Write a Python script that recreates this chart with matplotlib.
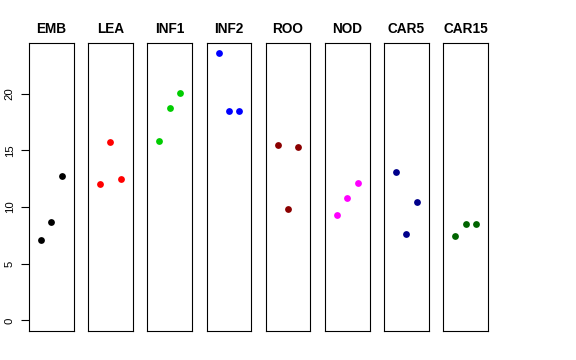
import matplotlib
matplotlib.use("Agg")
import matplotlib.pyplot as plt

plt.rcParams['font.family'] = ['Liberation Sans', 'DejaVu Sans']

# one panel per tissue, three replicate values each
tissues = ['EMB', 'LEA', 'INF1', 'INF2', 'ROO', 'NOD', 'CAR5', 'CAR15']
values = [
    [7.12, 8.68, 12.75],
    [12.04, 15.69, 12.51],
    [15.84, 18.73, 20.02],
    [23.55, 18.49, 18.49],
    [15.51, 9.86, 15.31],
    [9.33, 10.80, 12.13],
    [13.07, 7.62, 10.48],
    [7.45, 8.48, 8.48],
]
colors = ['black', 'red', '#00CD00', 'blue', '#8B0000', 'magenta', '#00008B', '#006400']
yticks = [0, 5, 10, 15, 20]

W, H = 576, 360
fig = plt.figure(figsize=(W / 100, H / 100), dpi=100)

left0, step, width = 29, 59.2, 44.5
top, bottom = 42.7, 331
ymax = max(max(v) for v in values)
pad = 0.04 * ymax

for i, (name, vals, col) in enumerate(zip(tissues, values, colors)):
    x0 = left0 + i * step
    ax = fig.add_axes([x0 / W, 1 - bottom / H, width / W, (bottom - top) / H])
    ax.scatter([1, 2, 3], vals, s=24, color=col, zorder=3, linewidths=0)
    ax.set_xlim(-0.16, 4.16)
    ax.set_ylim(-pad, ymax + pad)
    ax.set_xticks([])
    for sp in ax.spines.values():
        sp.set_linewidth(0.8)
    ax.set_title(name, fontsize=9.8, fontweight='bold', pad=7)
    if i == 0:
        ax.set_yticks(yticks)
        ax.set_yticklabels([str(t) for t in yticks], rotation=90, va='center', fontsize=8.2)
        ax.tick_params(axis='y', length=5.8, width=0.8, pad=4.5)
    else:
        ax.set_yticks([])

fig.savefig('out.png', dpi=100)
